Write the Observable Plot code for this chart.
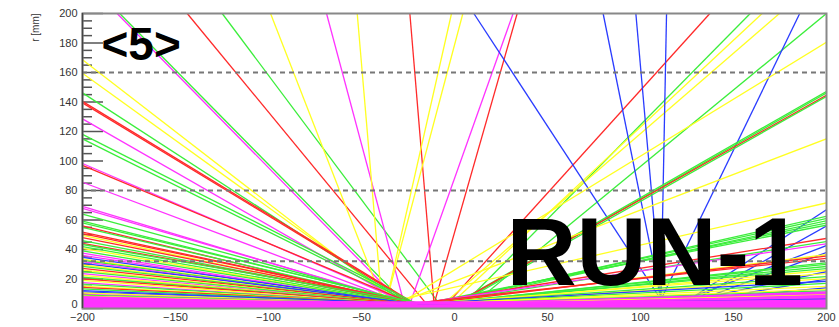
<!DOCTYPE html>
<html><head><meta charset="utf-8">
<script src="https://cdn.jsdelivr.net/npm/d3@7"></script>
<script src="https://cdn.jsdelivr.net/npm/@observablehq/plot@0.6"></script>
<style>body{margin:0;background:#fff;}</style>
</head><body><div id="chart"></div>
<script>
// axis ticks
const xMajor = [-200, -150, -100, -50, 0, 50, 100, 150, 200];
const yMajor = [0, 20, 40, 60, 80, 100, 120, 140, 160, 180, 200];
const yMinor = [5,10,15,25,30,35,45,50,55,65,70,75,85,90,95,105,110,115,125,130,135,145,150,155,165,170,175,185,190,195];
const layerR = [32, 80, 160];

// tracks ending on the top edge (r = 200): [z vertex, r vertex, z at top, colour]
const tracksTop = [
  [-28,3,-181.4,"M"],[-26,3,-180,"G"],[-15,3,-143.7,"R"],[-8,3,-124.9,"G"],
  [-38,3,-98.9,"Y"],[-27,3,-68.8,"M"],[-39,3,-52.3,"Y"],[-11,3,-24.0,"R"],
  [-37,3,-1.6,"Y"],[-37,3,4.5,"Y"],[-24,3,31.5,"M"],[-11,3,33.7,"R"],
  [-4,3,137.3,"R"],[5,3,159,"G"],[-2,3,165.4,"Y"],[-6,3,174.7,"Y"],[10,3,200,"G"],
  [111,6,10.4,"B"],[111,6,79.9,"B"],[111,6,97.5,"B"],[111,6,114,"B"],[111,6,185.6,"B"]
];
// tracks ending on the right edge (z = 200): [z vertex, r vertex, r at edge, colour]
const tracksRight = [
  [-30,3,180.5,"Y"],[0,3,147.2,"G"],[1,3,146.2,"G"],[0,3,144.6,"R"],[2,3,143.8,"G"],
  [-32,3,115,"Y"],[-40,3,71.6,"Y"],
  [125,5,67,"B"],[128,5,56,"B"],[122,5,42.7,"B"],[130,5,38,"B"],[126,5,25,"B"],[132,5,20,"B"],[120,5,14,"B"],
  [-10,3,62.5,"G"],[-12,3,61,"G"],[-8,3,59.5,"G"],[-15,3,58,"G"],[-18,3,56.5,"G"],
  [-20,3,47.5,"R"],[-14,3,45.4,"G"],[-22,3,43.8,"M"],[-16,3,36.5,"Y"],[-18,3,35.5,"R"],
  [-26,3,34,"R"],[-12,3,31,"G"],[-14,3,30,"G"],[-10,3,28.5,"G"],[-16,3,27,"G"],
  [-8,3,25.8,"Y"],[-20,3,23.7,"Y"],[-12,3,21.7,"G"],[-6,3,20.3,"Y"],[-22,3,18.5,"B"],
  [-14,3,17,"G"],[-18,3,15,"Y"],[-24,3,13,"Y"],[-10,3,12,"G"]
];
// tracks ending on the left edge (z = -200): [z vertex, r vertex, r at edge, colour]
const tracksLeft = [
  [-30,3,168.6,"Y"],[-28,3,159.5,"Y"],[-25,3,146.2,"G"],[-21,3,140.4,"R"],[-22,3,139.4,"R"],
  [-26,3,128.6,"M"],[-20,3,118,"G"],[-22,3,115,"G"],[-24,3,98.3,"M"],[-22,3,97,"R"],
  [-26,3,85.6,"M"],[-25,3,69.2,"M"],[-23,3,67.8,"M"],[-22,3,64,"G"],[-20,3,59.2,"G"],
  [-18,3,58,"G"],[-26,3,56,"R"],[-22,3,55,"G"],[-20,3,51.8,"R"],[-19,3,50.8,"R"],
  [-24,3,49.5,"Y"],[-20,3,48,"R"],[-22,3,46,"G"],[-18,3,44.2,"R"],[-16,3,43.4,"G"],
  [-23,3,42,"G"],[-26,3,40.7,"Y"],[-24,3,39,"G"],[-28,3,37.5,"M"],[-27,3,36,"M"],[-22,3,34.6,"B"],
  [-27,3,33.4,"Y"],[-25,3,32.6,"G"],[-28,3,31.8,"M"],[-20,3,30.6,"B"],[-26,3,29.5,"Y"],
  [-24,3,28.5,"G"],[-22,3,27.2,"R"],[-27,3,26,"Y"],[-25,3,25,"G"],[-28,3,23.6,"M"],
  [-26,3,22.5,"Y"],[-23,3,21.2,"G"],[-21,3,20.1,"R"],[-27,3,19,"Y"],[-29,3,17.6,"M"],
  [-24,3,16.5,"G"],[-26,3,15.2,"Y"],[-22,3,14.3,"R"],[-25,3,13.3,"G"],[-18,3,12.1,"B"],
  [-20,3,11.3,"B"],[-27,3,10.5,"Y"],[-28,3,9.6,"M"],[-24,3,9,"G"],[-26,3,8.3,"Y"]
];
// low-angle (soft) tracks forming the band along the beam line
const bandLeft = [
  [-27,2,7.8,"M"],[-25,1.5,7.2,"M"],[-28,2,6.6,"M"],[-26,1,6,"M"],[-27,2,5.3,"M"],
  [-24,1.5,4.7,"M"],[-29,2,4,"M"],[-26,1,3.4,"M"],[-27,2,2.8,"M"],[-25,1,2.1,"M"],
  [-28,1.5,1.5,"M"],[-26,1,0.9,"M"],[-27,0.5,0.4,"M"],
  [111,1,4.5,"M"],[111,2,3.6,"M"],[111,0.5,2.5,"M"],[111,3,5.5,"M"]
];
const bandRight = [
  [-27,2,11,"M"],[-25,1.5,10.2,"M"],[-28,2.5,9.4,"M"],[-22,2,9,"Y"],[-26,1,8.6,"M"],
  [-27,2,7.8,"M"],[-24,1.5,7.1,"M"],[-29,2,6.3,"M"],[-20,2,6,"B"],[-26,1,5.5,"M"],
  [-27,2,4.8,"M"],[-25,1,4,"M"],[-28,1.5,3.2,"M"],[-26,1,2.4,"M"],[-27,0.5,1.6,"M"],[-25,0.5,0.9,"M"],
  [-27,3.5,4.2,"M"],[-26,4,5,"M"]
];

const colour = {Y:"#ffff22", G:"#3bee3b", M:"#ff33ff", R:"#ff2a2a", B:"#2a3cff"};

const link = (z0, r0, z1, r1, c) => ({z0, r0, z1, r1, stroke: colour[c]});
const tracks = [
  ...tracksTop.map(([z0, r0, z1, c]) => link(z0, r0, z1, 200, c)),
  ...tracksRight.map(([z0, r0, r1, c]) => link(z0, r0, 200, r1, c)),
  ...tracksLeft.map(([z0, r0, r1, c]) => link(z0, r0, -200, r1, c))
];
const band = [
  ...bandLeft.map(([z0, r0, r1, c]) => link(z0, r0, -200, r1, c)),
  ...bandRight.map(([z0, r0, r1, c]) => link(z0, r0, 200, r1, c))
];

const frameW = 839 - 82 - 13;
const chart = Plot.plot({
  width: 839, height: 327,
  marginLeft: 82, marginRight: 13, marginTop: 13, marginBottom: 19,
  x: {domain: [-200, 200]},
  y: {domain: [0, 200]},
  style: {fontFamily: "'Liberation Sans', Arial, sans-serif", fontSize: "11px", background: "#fff", color: "#333", overflow: "visible"},
  marks: [
    Plot.tickY(yMajor, {stroke: "#555", strokeWidth: 1.5, insetRight: frameW - 21}),
    Plot.tickY(yMinor, {stroke: "#555", strokeWidth: 1.5, insetRight: frameW - 10}),
    Plot.axisY({ticks: yMajor.slice(1), tickSize: 0, tickPadding: 5, label: null}),
    Plot.axisY({ticks: yMajor.slice(0, 1), tickSize: 0, tickPadding: 5, label: null, dy: -4}),
    Plot.axisX({ticks: xMajor, tickSize: 0, tickPadding: 5, label: null}),
    Plot.link(tracks, {x1: "z0", y1: "r0", x2: "z1", y2: "r1", stroke: d => d.stroke, strokeWidth: 1.3, clip: true}),
    Plot.link(band, {x1: "z0", y1: "r0", x2: "z1", y2: "r1", stroke: d => d.stroke, strokeWidth: 2.2, clip: true}),
    Plot.ruleY(layerR, {stroke: "#777", strokeWidth: 2, strokeDasharray: "5,4"}),
    Plot.frame({stroke: "#888", strokeWidth: 2}),
    Plot.ruleX([-200], {stroke: "#444", strokeWidth: 1.5}),
    Plot.text(["r [mm]"], {frameAnchor: "top-left", dx: -51, dy: 0, rotate: -90, textAnchor: "end", fontSize: 10, fill: "#333"}),
    Plot.text(["<5>"], {frameAnchor: "top-left", dx: 19, dy: 14, textAnchor: "start", lineAnchor: "top", fontSize: 46, fontWeight: "bold", fill: "#000"}),
    Plot.text(["RUN-1"], {frameAnchor: "top-left", dx: 424, dy: 203, textAnchor: "start", lineAnchor: "top", fontSize: 97, fontWeight: "bold", fill: "#000"})
  ]
});
document.getElementById("chart").appendChild(chart);
</script>
</body></html>
